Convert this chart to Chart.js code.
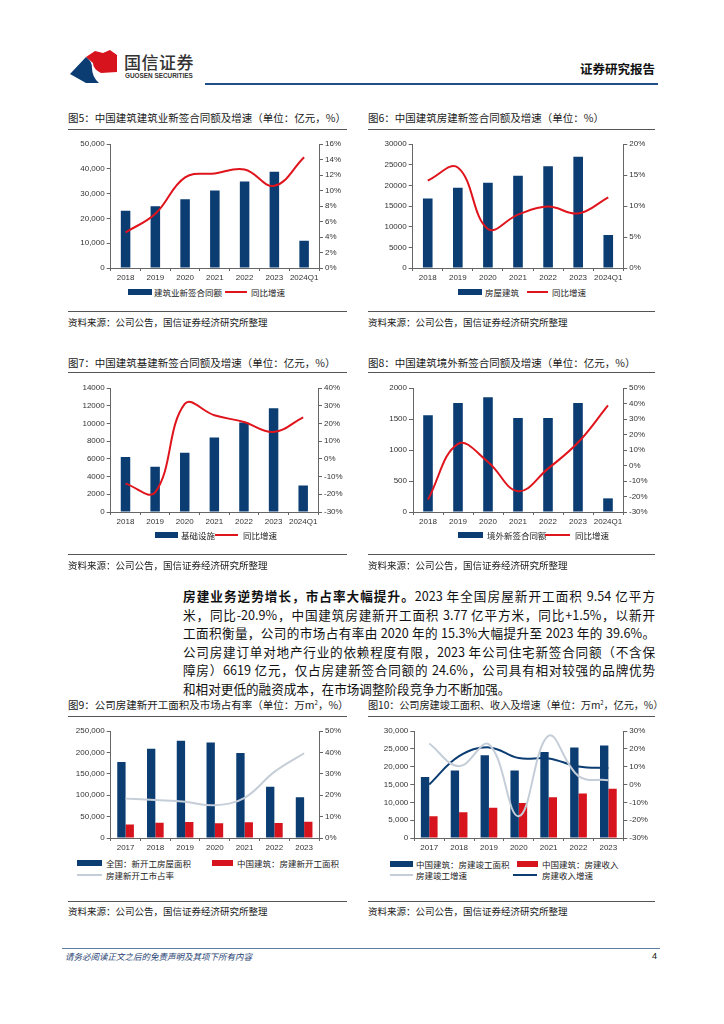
<!DOCTYPE html>
<html><head><meta charset="utf-8">
<script src="https://cdn.jsdelivr.net/npm/chart.js@4/dist/chart.umd.min.js"></script>
<style>
html,body{margin:0;padding:0;background:#fff;}
body{width:724px;height:1024px;position:relative;overflow:hidden;font-family:"Noto Sans CJK SC","Noto Sans",sans-serif;color:#1a1a1a;}
.abs{position:absolute;}
canvas{position:absolute;}
.title{position:absolute;font-size:10.5px;line-height:14px;white-space:nowrap;overflow:hidden;color:#1a1a1a;}
.hr{position:absolute;height:0;border-top:1px solid #555;}
.src{position:absolute;font-size:9.5px;line-height:12px;white-space:nowrap;color:#1a1a1a;}
.lg{position:absolute;font-size:8.5px;line-height:12px;white-space:nowrap;color:#222;}
.box{position:absolute;height:6px;}
.ln{position:absolute;height:2px;}
.para{position:absolute;left:183px;width:472px;font-size:12.6px;line-height:18.6px;color:#111;}
.para div{text-align:justify;text-align-last:justify;white-space:nowrap;}
.para div.last{text-align-last:left;}
sup{font-size:6px;line-height:0;vertical-align:4px;}
</style></head>
<body>
<!-- header -->
<svg class="abs" style="left:0;top:0" width="724" height="100">
  <path d="M70,74 L86,57 Q92,61 92,68 Q92,77 99,83 L86,83 Z" fill="#0b3d72"/>
  <path d="M86,57 L95,51 L103,53 L110,50 L117,55 L117,72 L101,73 Q93,69 93,63 Z" fill="#d7141d"/>
  <line x1="205" y1="84" x2="658" y2="84" stroke="#1f4f88" stroke-width="2"/>
</svg>
<div class="abs" style="left:124px;top:51px;font-size:17px;line-height:22px;color:#333;font-weight:500;letter-spacing:0.5px;">国信证券</div>
<div class="abs" style="left:125px;top:72px;font-size:6.4px;line-height:8px;color:#333;font-family:'Liberation Sans',sans-serif;font-weight:bold;">GUOSEN SECURITIES</div>
<div class="abs" style="left:580px;top:61px;font-size:12.5px;line-height:16px;font-weight:bold;color:#111;">证券研究报告</div>

<!-- titles row 1 -->
<div class="title" style="left:68px;top:111px;width:285px;">图5：中国建筑建筑业新签合同额及增速（单位：亿元，%）</div>
<div class="hr" style="left:68px;top:129px;width:279px;"></div>
<div class="title" style="left:368px;top:111px;width:287px;">图6：中国建筑房建新签合同额及增速（单位：%）</div>
<div class="hr" style="left:368px;top:129px;width:287px;"></div>
<canvas id="c5" width="295" height="152" style="left:62px;top:134px;"></canvas>
<canvas id="c6" width="298" height="152" style="left:362px;top:134px;"></canvas>
<div class="box" style="left:128px;top:289px;width:24px;background:#0b3d72;"></div><div class="lg" style="left:154px;top:286px;">建筑业新签合同额</div>
<div class="ln" style="left:225px;top:291px;width:22px;background:#e0141c;"></div><div class="lg" style="left:251px;top:286px;">同比增速</div>
<div class="box" style="left:458px;top:289px;width:24px;background:#0b3d72;"></div><div class="lg" style="left:485px;top:286px;">房屋建筑</div>
<div class="ln" style="left:527px;top:291px;width:21px;background:#e0141c;"></div><div class="lg" style="left:552px;top:286px;">同比增速</div>
<div class="hr" style="left:68px;top:311px;width:279px;"></div>
<div class="src" style="left:68px;top:316px;">资料来源：公司公告，国信证券经济研究所整理</div>
<div class="hr" style="left:368px;top:311px;width:287px;"></div>
<div class="src" style="left:368px;top:316px;">资料来源：公司公告，国信证券经济研究所整理</div>

<!-- titles row 2 -->
<div class="title" style="left:68px;top:356px;width:285px;">图7：中国建筑基建新签合同额及增速（单位：亿元，%）</div>
<div class="hr" style="left:68px;top:372px;width:279px;"></div>
<div class="title" style="left:368px;top:356px;width:287px;">图8：中国建筑境外新签合同额及增速（单位：亿元，%）</div>
<div class="hr" style="left:368px;top:372px;width:287px;"></div>
<canvas id="c7" width="295" height="152" style="left:62px;top:378px;"></canvas>
<canvas id="c8" width="298" height="152" style="left:362px;top:378px;"></canvas>
<div class="box" style="left:155px;top:532px;width:23px;background:#0b3d72;"></div><div class="lg" style="left:181px;top:529px;">基础设施</div>
<div class="ln" style="left:215px;top:534px;width:23px;background:#e0141c;"></div><div class="lg" style="left:243px;top:529px;">同比增速</div>
<div class="box" style="left:458px;top:532px;width:25px;background:#0b3d72;"></div><div class="lg" style="left:487px;top:529px;">境外新签合同额</div>
<div class="ln" style="left:545px;top:534px;width:25px;background:#e0141c;"></div><div class="lg" style="left:575px;top:529px;">同比增速</div>
<div class="hr" style="left:68px;top:554px;width:279px;"></div>
<div class="src" style="left:68px;top:559px;">资料来源：公司公告，国信证券经济研究所整理</div>
<div class="hr" style="left:368px;top:554px;width:287px;"></div>
<div class="src" style="left:368px;top:559px;">资料来源：公司公告，国信证券经济研究所整理</div>

<!-- paragraph -->
<div class="para" style="top:587px;">
<div><b>房建业务逆势增长，市占率大幅提升。</b>2023 年全国房屋新开工面积 9.54 亿平方</div>
<div>米，同比-20.9%，中国建筑房建新开工面积 3.77 亿平方米，同比+1.5%，以新开</div>
<div>工面积衡量，公司的市场占有率由 2020 年的 15.3%大幅提升至 2023 年的 39.6%。</div>
<div>公司房建订单对地产行业的依赖程度有限，2023 年公司住宅新签合同额（不含保</div>
<div>障房）6619 亿元，仅占房建新签合同额的 24.6%，公司具有相对较强的品牌优势</div>
<div class="last">和相对更低的融资成本，在市场调整阶段竞争力不断加强。</div>
</div>

<!-- titles row 3 -->
<div class="title" style="left:68px;top:698px;width:285px;">图9：公司房建新开工面积及市场占有率（单位：万m<sup>2</sup>，%）</div>
<div class="hr" style="left:68px;top:716px;width:279px;"></div>
<div class="title" style="left:368px;top:698px;width:290px;font-size:10.2px;letter-spacing:-0.1px;">图10：公司房建竣工面积、收入及增速（单位：万m<sup>2</sup>，亿元，%）</div>
<div class="hr" style="left:368px;top:716px;width:287px;"></div>
<canvas id="c9" width="295" height="135" style="left:62px;top:721px;"></canvas>
<canvas id="c10" width="300" height="135" style="left:362px;top:721px;"></canvas>
<div class="box" style="left:77px;top:860px;width:25px;background:#0b3d72;"></div><div class="lg" style="left:106px;top:857px;">全国：新开工房屋面积</div>
<div class="box" style="left:212px;top:860px;width:21px;background:#d7141d;"></div><div class="lg" style="left:237px;top:857px;">中国建筑：房建新开工面积</div>
<div class="ln" style="left:77px;top:874px;width:25px;background:#c5ced8;"></div><div class="lg" style="left:106px;top:869px;">房建新开工市占率</div>
<div class="box" style="left:390px;top:861px;width:23px;background:#0b3d72;"></div><div class="lg" style="left:416px;top:858px;">中国建筑：房建竣工面积</div>
<div class="box" style="left:517px;top:861px;width:21px;background:#d7141d;"></div><div class="lg" style="left:542px;top:858px;">中国建筑：房建收入</div>
<div class="ln" style="left:390px;top:874px;width:23px;background:#c5ced8;"></div><div class="lg" style="left:416px;top:869px;">房建竣工增速</div>
<div class="ln" style="left:513px;top:874px;width:24px;background:#0b3d72;"></div><div class="lg" style="left:542px;top:869px;">房建收入增速</div>
<div class="hr" style="left:68px;top:901px;width:279px;"></div>
<div class="src" style="left:68px;top:905px;">资料来源：公司公告，国信证券经济研究所整理</div>
<div class="hr" style="left:368px;top:901px;width:287px;"></div>
<div class="src" style="left:368px;top:905px;">资料来源：公司公告，国信证券经济研究所整理</div>

<!-- footer -->
<div class="abs" style="left:62px;top:948px;width:598px;height:0;border-top:1px solid #5b7fa6;"></div>
<div class="abs" style="left:65px;top:951px;font-size:8.5px;line-height:11px;font-style:italic;color:#1f3f73;">请务必阅读正文之后的免责声明及其项下所有内容</div>
<div class="abs" style="left:652px;top:951px;font-size:9px;line-height:11px;color:#111;font-family:'Liberation Sans',sans-serif;">4</div>

<script>
// ---------- data ----------
const years7 = ['2018','2019','2020','2021','2022','2023','2024Q1'];
const years9 = ['2017','2018','2019','2020','2021','2022','2023'];

const c5Contracts = [23100, 24900, 27700, 31200, 34900, 38800, 11000];
const c5Growth    = [4.6, 7.0, 11.7, 12.2, 12.7, 10.6, 14.3];

const c6Housing   = [16800, 19400, 20600, 22300, 24600, 26900, 8000];
const c6Growth    = [14.1, 16.2, 6.3, 8.6, 9.9, 8.8, 11.4];

const c7Infra     = [6200, 5100, 6700, 8400, 10100, 11700, 3000];
const c7Growth    = [-14.0, -18.9, 31.0, 24.6, 20.8, 15.2, 23.4];

const c8Overseas  = [1560, 1760, 1850, 1515, 1515, 1757, 220];
const c8Growth    = [-22.0, 14.0, 2.3, -16.6, -2.0, 14.8, 38.8];

const c9National  = [177500, 208600, 227300, 223400, 198400, 120000, 95000];
const c9Cscec     = [31800, 35800, 37500, 34300, 37000, 35000, 37700];
const c9Share     = [18.4, 17.7, 16.9, 15.3, 18.8, 30.9, 39.6];

const c10Area     = [17100, 18900, 23200, 18900, 24100, 25400, 25900];
const c10Revenue  = [6100, 7200, 8500, 9800, 11400, 12500, 13800];
const c10AreaG    = [23.0, 10.3, 22.5, -17.8, 27.4, 4.7, 2.4];
const c10RevG     = [0.0, 15.9, 20.8, 14.8, 14.6, 10.1, 9.2];

// ---------- styling ----------
const BLUE = '#0b3d72', RED = '#e0141c', REDBAR = '#d7141d', GREY = '#c5ced8';
const TICKFONT = {family:'"Liberation Sans", Arial, sans-serif', size:8};
Chart.defaults.font.family = '"Liberation Sans", Arial, sans-serif';
Chart.defaults.animation = false;

const comma = v => v === 0 ? '0' : v.toLocaleString('en-US');
const plain = v => String(v);
const pct = v => v + '%';

function yAxis(pos, min, max, step, fmt, width){
  return {
    position: pos, min, max,
    ticks: {stepSize: step, callback: fmt, font: TICKFONT, color: '#333', padding: 2},
    grid: {drawOnChartArea: false, drawTicks: true, tickLength: 4, color: '#666'},
    border: {display: true, color: '#666', width: 1},
    afterFit: s => { s.width = width; }
  };
}
function xAxis(){
  return {
    ticks: {font: TICKFONT, color: '#333', padding: 2, maxRotation: 0, autoSkip: false},
    grid: {drawOnChartArea: false, drawTicks: true, tickLength: 3, color: '#666'},
    border: {display: true, color: '#666', width: 1},
    afterFit: s => { s.height = 18; }
  };
}
function make(id, labels, datasets, yL, yR, top){
  new Chart(document.getElementById(id), {
    data: {labels, datasets},
    options: {
      responsive: false, animation: false,
      layout: {padding: {top: top, left: 0, right: 0, bottom: 0}},
      plugins: {legend: {display: false}, tooltip: {enabled: false}},
      scales: {x: xAxis(), y: yL, y1: yR}
    }
  });
}
function barDs(label, data, color, pct){
  return {type:'bar', label, data, backgroundColor: color, yAxisID:'y', order: 2,
          categoryPercentage: pct || 0.32, barPercentage: 1};
}
function lineDs(label, data, color){
  return {type:'line', label, data, borderColor: color, borderWidth: 2, pointRadius: 0,
          tension: 0.4, yAxisID:'y1', order: 0, fill: false};
}

make('c5', years7,
  [barDs('建筑业新签合同额', c5Contracts, BLUE), lineDs('同比增速', c5Growth, RED)],
  yAxis('left', 0, 50000, 10000, comma, 48.7), yAxis('right', 0, 16, 2, pct, 38), 10);

make('c6', years7,
  [barDs('房屋建筑', c6Housing, BLUE), lineDs('同比增速', c6Growth, RED)],
  yAxis('left', 0, 30000, 5000, plain, 50.7), yAxis('right', 0, 20, 5, pct, 36.7), 10);

make('c7', years7,
  [barDs('基础设施', c7Infra, BLUE), lineDs('同比增速', c7Growth, RED)],
  yAxis('left', 0, 14000, 2000, plain, 48.7), yAxis('right', -30, 40, 10, pct, 39), 10);

make('c8', years7,
  [barDs('境外新签合同额', c8Overseas, BLUE), lineDs('同比增速', c8Growth, RED)],
  yAxis('left', 0, 2000, 500, plain, 51), yAxis('right', -30, 50, 10, pct, 37), 10);

make('c9', years9,
  [barDs('全国：新开工房屋面积', c9National, BLUE, 0.56),
   barDs('中国建筑：房建新开工面积', c9Cscec, REDBAR, 0.56),
   lineDs('房建新开工市占率', c9Share, GREY)],
  yAxis('left', 0, 250000, 50000, comma, 48.7), yAxis('right', 0, 50, 10, pct, 38), 10);

make('c10', years9,
  [barDs('中国建筑：房建竣工面积', c10Area, BLUE, 0.56),
   barDs('中国建筑：房建收入', c10Revenue, REDBAR, 0.56),
   lineDs('房建竣工增速', c10AreaG, GREY),
   lineDs('房建收入增速', c10RevG, BLUE)],
  yAxis('left', 0, 30000, 5000, comma, 52.3), yAxis('right', -30, 30, 10, pct, 38.7), 10);
</script>
</body></html>
